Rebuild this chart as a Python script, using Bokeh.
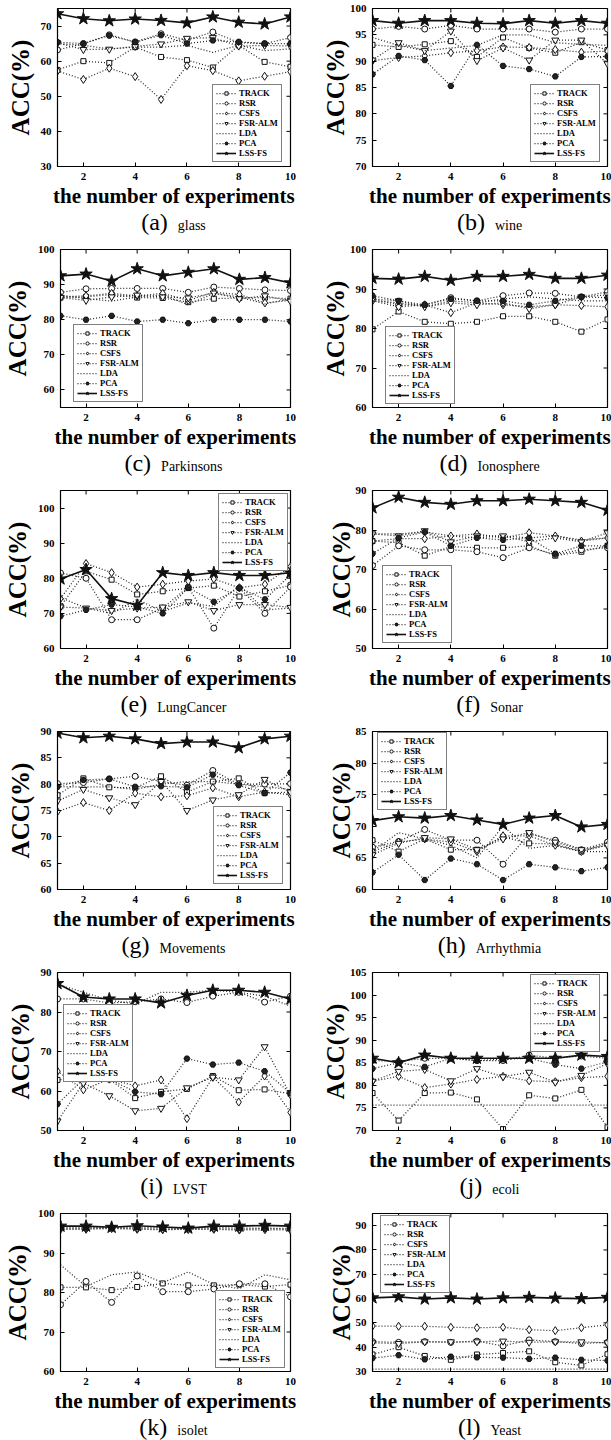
from bokeh.plotting import figure
from bokeh.models import Range1d, FixedTicker, Div
from bokeh.layouts import column, row
from bokeh.embed import file_html
from bokeh.resources import INLINE

experiments = [1, 2, 3, 4, 5, 6, 7, 8, 9, 10]
x_ticks = [2, 4, 6, 8, 10]
methods = ["TRACK", "RSR", "CSFS", "FSR-ALM", "LDA", "PCA", "LSS-FS"]

glass = {
    "TRACK":   [57.5, 60.0, 59.5, 64.0, 61.2, 60.3, 58.2, 64.5, 59.8, 58.4],
    "RSR":     [63.2, 65.0, 67.5, 65.5, 67.8, 66.0, 68.3, 65.3, 65.0, 66.7],
    "CSFS":    [57.2, 54.8, 58.0, 55.6, 49.1, 58.7, 57.3, 54.4, 55.7, 57.0],
    "FSR-ALM": [65.2, 63.3, 63.4, 64.2, 64.9, 66.5, 66.7, 64.3, 64.5, 64.3],
    "LDA":     [65.0, 64.5, 63.5, 64.0, 64.0, 64.5, 62.5, 64.5, 63.0, 63.5],
    "PCA":     [65.4, 65.0, 67.3, 65.4, 67.4, 65.0, 65.9, 65.5, 65.0, 65.0],
    "LSS-FS":  [73.5, 72.1, 71.5, 72.0, 71.6, 70.9, 72.6, 71.1, 70.6, 72.6],
}
wine = {
    "TRACK":   [93.1, 92.7, 93.2, 93.8, 90.8, 94.5, 92.5, 91.6, 93.6, 92.1],
    "RSR":     [96.1, 96.6, 96.1, 96.8, 96.1, 96.1, 96.1, 95.5, 96.1, 96.1],
    "CSFS":    [90.1, 90.7, 91.0, 91.6, 92.0, 92.7, 92.6, 92.2, 91.7, 91.9],
    "FSR-ALM": [90.2, 93.5, 92.0, 95.7, 90.1, 92.5, 90.2, 94.0, 94.0, 89.5],
    "LDA":     [94.5, 93.0, 92.0, 92.5, 93.0, 95.0, 95.0, 93.5, 93.2, 93.0],
    "PCA":     [87.5, 91.0, 90.2, 85.3, 93.1, 89.1, 88.5, 87.1, 90.8, 90.9],
    "LSS-FS":  [97.7, 97.2, 97.7, 97.7, 97.2, 97.1, 97.7, 97.2, 97.7, 97.2],
}
parkinsons = {
    "TRACK":   [86.3, 86.5, 87.2, 86.3, 86.2, 85.0, 86.0, 86.2, 86.3, 86.0],
    "RSR":     [87.8, 88.8, 88.9, 88.9, 88.9, 87.8, 89.3, 88.9, 88.5, 88.3],
    "CSFS":    [86.5, 86.8, 87.5, 86.8, 87.5, 85.5, 87.8, 87.2, 84.8, 85.5],
    "FSR-ALM": [86.3, 85.5, 86.5, 87.0, 86.5, 86.2, 87.6, 86.0, 86.8, 85.3],
    "LDA":     [87.0, 86.0, 85.3, 86.5, 87.0, 84.3, 87.5, 86.5, 84.5, 86.0],
    "PCA":     [81.1, 80.0, 81.1, 79.5, 80.0, 79.0, 80.0, 80.0, 80.0, 79.5],
    "LSS-FS":  [92.5, 93.0, 91.0, 94.5, 92.5, 93.5, 94.5, 91.5, 92.0, 90.5],
}
ionosphere = {
    "TRACK":   [79.8, 84.3, 81.7, 81.2, 81.7, 83.1, 83.1, 81.7, 79.2, 82.3],
    "RSR":     [87.5, 86.0, 86.0, 87.8, 87.0, 88.3, 89.0, 88.9, 88.0, 89.3],
    "CSFS":    [87.0, 85.5, 86.0, 84.0, 86.5, 86.0, 85.5, 86.0, 85.8, 85.5],
    "FSR-ALM": [87.5, 87.0, 85.5, 86.5, 86.0, 86.5, 85.0, 86.0, 88.0, 88.5],
    "LDA":     [87.0, 86.5, 85.5, 87.0, 86.5, 87.5, 88.0, 87.5, 87.0, 87.0],
    "PCA":     [88.3, 87.0, 86.0, 87.5, 87.0, 87.0, 86.0, 87.0, 88.0, 87.8],
    "LSS-FS":  [92.7, 92.5, 93.2, 92.2, 93.2, 93.2, 93.7, 92.7, 92.7, 93.5],
}
lungcancer = {
    "TRACK":   [72.0, 82.0, 79.6, 75.4, 76.3, 77.2, 77.9, 74.8, 76.3, 78.0],
    "RSR":     [81.5, 80.0, 68.2, 68.2, 71.5, 77.5, 65.8, 77.2, 70.0, 77.5],
    "CSFS":    [74.2, 84.2, 81.6, 77.5, 78.3, 79.2, 79.8, 77.3, 78.3, 83.3],
    "FSR-ALM": [71.8, 71.5, 70.8, 71.5, 71.8, 73.3, 70.8, 72.5, 72.5, 71.7],
    "LDA":     [74.5, 71.5, 70.0, 74.0, 70.5, 73.0, 72.0, 78.0, 71.0, 71.5],
    "PCA":     [69.2, 71.0, 72.5, 71.8, 70.0, 77.3, 73.3, 77.3, 74.0, 81.0],
    "LSS-FS":  [79.8, 82.5, 74.2, 72.3, 81.6, 80.8, 81.6, 80.8, 80.8, 81.6],
}
sonar = {
    "TRACK":   [77.2, 76.8, 73.5, 75.8, 75.5, 75.5, 76.0, 73.5, 74.5, 76.0],
    "RSR":     [71.0, 76.0, 75.0, 75.0, 74.5, 73.0, 75.5, 73.8, 75.0, 75.5],
    "CSFS":    [77.2, 77.8, 77.8, 78.5, 79.0, 78.0, 79.3, 78.5, 77.2, 78.0],
    "FSR-ALM": [79.0, 78.5, 79.8, 77.0, 78.5, 78.5, 77.0, 78.0, 77.0, 79.3],
    "LDA":     [79.0, 79.0, 79.5, 78.5, 78.0, 78.5, 78.0, 78.5, 77.5, 78.0],
    "PCA":     [74.0, 78.0, 79.5, 76.0, 78.0, 77.5, 78.0, 74.0, 76.0, 76.0],
    "LSS-FS":  [85.6, 88.3, 87.0, 86.5, 87.4, 87.4, 87.8, 87.4, 87.0, 85.0],
}
movements = {
    "TRACK":   [77.9, 81.1, 79.4, 79.3, 81.5, 78.5, 80.5, 81.1, 78.3, 78.5],
    "RSR":     [80.1, 80.3, 81.0, 81.5, 80.5, 79.8, 82.6, 80.0, 80.0, 80.1],
    "CSFS":    [74.8, 76.5, 75.0, 78.3, 77.6, 77.8, 79.3, 77.6, 78.5, 78.0],
    "FSR-ALM": [76.8, 79.0, 77.4, 76.1, 80.5, 75.0, 77.0, 78.0, 80.9, 78.5],
    "LDA":     [79.5, 79.5, 79.5, 79.0, 80.0, 80.5, 80.5, 80.0, 79.5, 79.0],
    "PCA":     [79.5, 80.8, 81.0, 79.5, 79.6, 79.4, 81.8, 79.8, 78.3, 82.2],
    "LSS-FS":  [89.7, 88.8, 89.1, 88.6, 87.7, 88.0, 88.0, 86.9, 88.6, 89.1],
}
arrhythmia = {
    "TRACK":   [67.8, 66.0, 68.0, 66.3, 66.3, 68.3, 67.3, 67.2, 66.0, 67.3],
    "RSR":     [66.7, 67.6, 69.5, 67.8, 67.8, 64.0, 68.8, 67.8, 66.3, 67.5],
    "CSFS":    [66.0, 67.5, 68.0, 67.5, 66.0, 68.5, 68.5, 67.0, 66.0, 67.0],
    "FSR-ALM": [65.5, 67.3, 68.2, 68.0, 66.3, 68.0, 69.0, 67.5, 66.3, 67.0],
    "LDA":     [66.0, 69.0, 68.0, 67.0, 65.0, 70.0, 66.5, 67.0, 66.0, 66.0],
    "PCA":     [62.7, 65.5, 61.5, 64.9, 64.0, 61.5, 64.0, 63.5, 62.9, 63.5],
    "LSS-FS":  [70.9, 71.5, 71.3, 71.7, 71.0, 70.3, 71.3, 71.7, 69.9, 70.3],
}
lvst = {
    "TRACK":   [62.8, 63.5, 63.0, 58.2, 59.8, 60.5, 63.8, 60.2, 60.4, 59.3],
    "RSR":     [83.3, 83.3, 82.3, 82.6, 83.3, 82.4, 84.0, 85.0, 82.5, 84.0],
    "CSFS":    [65.0, 60.3, 63.0, 61.3, 62.8, 53.0, 63.5, 57.2, 63.8, 54.6],
    "FSR-ALM": [52.4, 62.0, 58.8, 55.0, 55.6, 60.8, 63.5, 62.8, 71.2, 59.0],
    "LDA":     [87.0, 85.0, 83.0, 82.0, 85.0, 85.0, 85.5, 85.0, 84.0, 81.5],
    "PCA":     [56.7, 63.0, 63.0, 59.8, 59.2, 68.2, 66.7, 67.2, 65.0, 59.5],
    "LSS-FS":  [87.2, 83.8, 83.3, 83.3, 82.3, 84.2, 85.5, 85.5, 85.0, 83.3],
}
ecoli = {
    "TRACK":   [78.3, 72.2, 78.3, 78.4, 76.9, 70.3, 77.8, 77.1, 79.0, 70.7],
    "RSR":     [85.5, 85.3, 86.0, 86.0, 85.5, 85.5, 86.7, 86.0, 86.5, 86.0],
    "CSFS":    [80.9, 82.0, 79.5, 80.3, 81.3, 82.0, 81.0, 80.8, 81.7, 82.0],
    "FSR-ALM": [80.9, 83.1, 83.5, 81.0, 83.7, 81.9, 82.9, 80.7, 82.2, 84.8],
    "LDA":     [75.6, 75.6, 75.6, 75.6, 75.6, 75.6, 75.6, 75.6, 75.6, 75.6],
    "PCA":     [83.7, 85.0, 84.1, 86.0, 85.5, 85.8, 86.0, 84.6, 83.7, 85.2],
    "LSS-FS":  [86.0, 85.0, 86.7, 86.0, 86.0, 86.0, 86.0, 86.0, 86.7, 86.4],
}
isolet = {
    "TRACK":   [81.3, 81.3, 80.6, 81.4, 82.3, 81.8, 81.8, 82.0, 81.5, 82.0],
    "RSR":     [76.9, 82.8, 77.5, 84.2, 80.2, 80.2, 80.9, 82.2, 82.2, 78.9],
    "CSFS":    [96.0, 96.0, 96.2, 96.0, 95.9, 96.0, 96.0, 95.8, 95.9, 95.8],
    "FSR-ALM": [96.2, 96.2, 96.3, 96.2, 96.0, 96.0, 96.2, 96.0, 96.2, 96.0],
    "LDA":     [87.0, 81.5, 84.5, 85.2, 82.5, 85.2, 82.0, 81.0, 84.5, 83.2],
    "PCA":     [96.5, 96.4, 96.4, 96.5, 96.3, 96.2, 96.5, 96.3, 96.3, 96.2],
    "LSS-FS":  [96.8, 96.8, 96.5, 96.9, 96.6, 96.3, 96.8, 96.8, 97.0, 96.8],
}
yeast = {
    "TRACK":   [37.0, 40.0, 36.4, 34.8, 37.0, 37.6, 38.3, 33.8, 32.5, 37.1],
    "RSR":     [42.3, 42.0, 42.3, 42.0, 42.5, 40.5, 43.0, 42.3, 41.5, 42.0],
    "CSFS":    [48.7, 48.6, 48.6, 48.2, 48.0, 48.2, 47.2, 46.8, 48.0, 49.2],
    "FSR-ALM": [41.8, 41.5, 42.2, 42.2, 42.2, 42.5, 42.0, 42.2, 42.2, 41.8],
    "LDA":     [31.0, 31.0, 31.0, 31.0, 31.0, 31.0, 31.0, 31.0, 31.0, 31.0],
    "PCA":     [35.5, 36.7, 35.0, 36.1, 35.8, 35.7, 35.2, 35.7, 34.8, 34.5],
    "LSS-FS":  [60.3, 60.7, 59.8, 60.3, 59.8, 60.3, 60.5, 60.2, 60.0, 60.5],
}

# letter, dataset name, data, y-range, y ticks, legend position (px from frame bottom-left)
panels = [
    ("a", "glass", glass, (30, 75), [30, 40, 50, 60, 70], (155, 4)),
    ("b", "wine", wine, (70, 100), [70, 75, 80, 85, 90, 95, 100], (158, 4)),
    ("c", "Parkinsons", parkinsons, (55, 100), [60, 70, 80, 90, 100], (13, 5)),
    ("d", "Ionosphere", ionosphere, (60, 100), [60, 70, 80, 90, 100], (13, 3)),
    ("e", "LungCancer", lungcancer, (60, 105), [60, 70, 80, 90, 100], (158, 77)),
    ("f", "Sonar", sonar, (50, 90), [50, 60, 70, 80, 90], (10, 5)),
    ("g", "Movements", movements, (60, 90), [60, 65, 70, 75, 80, 85, 90], (156, 5)),
    ("h", "Arrhythmia", arrhythmia, (60, 85), [60, 65, 70, 75, 80, 85], (5, 79)),
    ("i", "LVST", lvst, (50, 90), [50, 60, 70, 80, 90], (6, 48)),
    ("j", "ecoli", ecoli, (70, 105), [70, 75, 80, 85, 90, 95, 100, 105], (158, 78)),
    ("k", "isolet", isolet, (60, 100), [60, 70, 80, 90, 100], (155, 3)),
    ("l", "Yeast", yeast, (30, 95), [30, 40, 50, 60, 70, 80, 90], (8, 78)),
]

STYLE = {
    "TRACK":   dict(marker="square", size=5, fill="white"),
    "RSR":     dict(marker="circle", size=6, fill="white"),
    "CSFS":    dict(marker="diamond", size=8, fill="white"),
    "FSR-ALM": dict(marker="inverted_triangle", size=7, fill="white"),
    "LDA":     None,
    "PCA":     dict(marker="hex", size=6, fill="#222222"),
    "LSS-FS":  dict(marker="star", size=13, fill="#111111"),
}

SERIF = "Liberation Serif"
FRAME_H = 158
TICK_PX = 4


def make_panel(idx, letter, name, data, yr, yt, leg_xy, last_row):
    right_col = idx % 2 == 1
    W = 306 if right_col else 305
    bl = 67 if right_col else 57
    br = 4 if right_col else 15
    fw = W - bl - br
    H = 8 + FRAME_H + 45
    p = figure(width=W, height=H, x_range=Range1d(1, 10), y_range=Range1d(yr[0], yr[1]),
               output_backend="svg", toolbar_location=None,
               min_border_left=bl, min_border_right=br, min_border_top=8, min_border_bottom=45)
    p.background_fill_color = "white"
    p.border_fill_color = "white"
    p.outline_line_color = "black"
    p.outline_line_width = 1.2
    p.xgrid.grid_line_color = None
    p.ygrid.grid_line_color = None

    # inward ticks on the top and right edges of the box (MATLAB style)
    dy = TICK_PX * (yr[1] - yr[0]) / FRAME_H
    dx = TICK_PX * (10 - 1) / fw
    p.segment(x0=x_ticks, x1=x_ticks, y0=[yr[1]] * len(x_ticks), y1=[yr[1] - dy] * len(x_ticks),
              line_color="black", line_width=1)
    p.segment(x0=[10] * len(yt), x1=[10 - dx] * len(yt), y0=yt, y1=yt,
              line_color="black", line_width=1)

    for m in methods:
        vals = data[m]
        st = STYLE[m]
        if m == "LSS-FS":
            p.line(experiments, vals, line_color="#111111", line_width=1.6, legend_label=m)
        else:
            p.line(experiments, vals, line_color="#262626", line_width=1.25,
                   line_dash="1 2", legend_label=m)
        if st is not None:
            p.scatter(experiments, vals, marker=st["marker"], size=st["size"],
                      line_color="#111111", line_width=1, fill_color=st["fill"], legend_label=m)

    for ax in (p.xaxis[0], p.yaxis[0]):
        ax.major_tick_in = TICK_PX
        ax.major_tick_out = 0
        ax.minor_tick_line_color = None
        ax.axis_line_color = "black"
        ax.major_label_text_font = SERIF
        ax.major_label_text_font_style = "bold"
        ax.major_label_text_font_size = "11px"
        ax.major_label_text_color = "black"
        ax.major_label_standoff = 6
        ax.axis_label_text_font = SERIF
        ax.axis_label_text_font_style = "bold"
        ax.axis_label_text_color = "black"
    p.xaxis.ticker = FixedTicker(ticks=x_ticks)
    p.yaxis.ticker = FixedTicker(ticks=yt)
    p.xaxis.axis_label = "the number of experiments"
    p.xaxis.axis_label_text_font_size = "21px"
    p.xaxis.axis_label_standoff = 1
    p.yaxis.axis_label = "ACC(%)"
    p.yaxis.axis_label_text_font_size = "25px"
    p.yaxis.axis_label_standoff = -2 if right_col else 4

    lg = p.legend[0]
    lg.location = leg_xy
    lg.label_text_font = SERIF
    lg.label_text_font_style = "bold"
    lg.label_text_font_size = "8.5px"
    lg.label_text_line_height = 1.0
    lg.label_text_color = "black"
    lg.label_height = 8
    lg.glyph_height = 8
    lg.glyph_width = 20
    lg.label_standoff = 3
    lg.spacing = 0
    lg.padding = 3
    lg.margin = 0
    lg.border_line_color = "black"
    lg.border_line_width = 1
    lg.background_fill_color = "white"
    lg.background_fill_alpha = 1.0

    dh = 24 if last_row else 30
    html = (f'<div style="width:{fw}px;margin-left:{bl}px;text-align:center;white-space:nowrap;'
            f'font-family:\'{SERIF}\';color:black;line-height:22px;">'
            f'<span style="font-size:24px;">({letter})</span>'
            f'<span style="font-size:14px;margin-left:10px;">{name}</span></div>')
    cap = Div(text=html, width=W, height=dh, margin=0)
    return column(p, cap, spacing=0)


cells = []
for i, (letter, name, data, yr, yt, leg_xy) in enumerate(panels):
    cells.append(make_panel(i, letter, name, data, yr, yt, leg_xy, i >= 10))

rows = [row(cells[k], cells[k + 1], spacing=0) for k in range(0, 12, 2)]
layout = column(*rows, spacing=0)

open("out.html", "w").write(file_html(layout, INLINE))
